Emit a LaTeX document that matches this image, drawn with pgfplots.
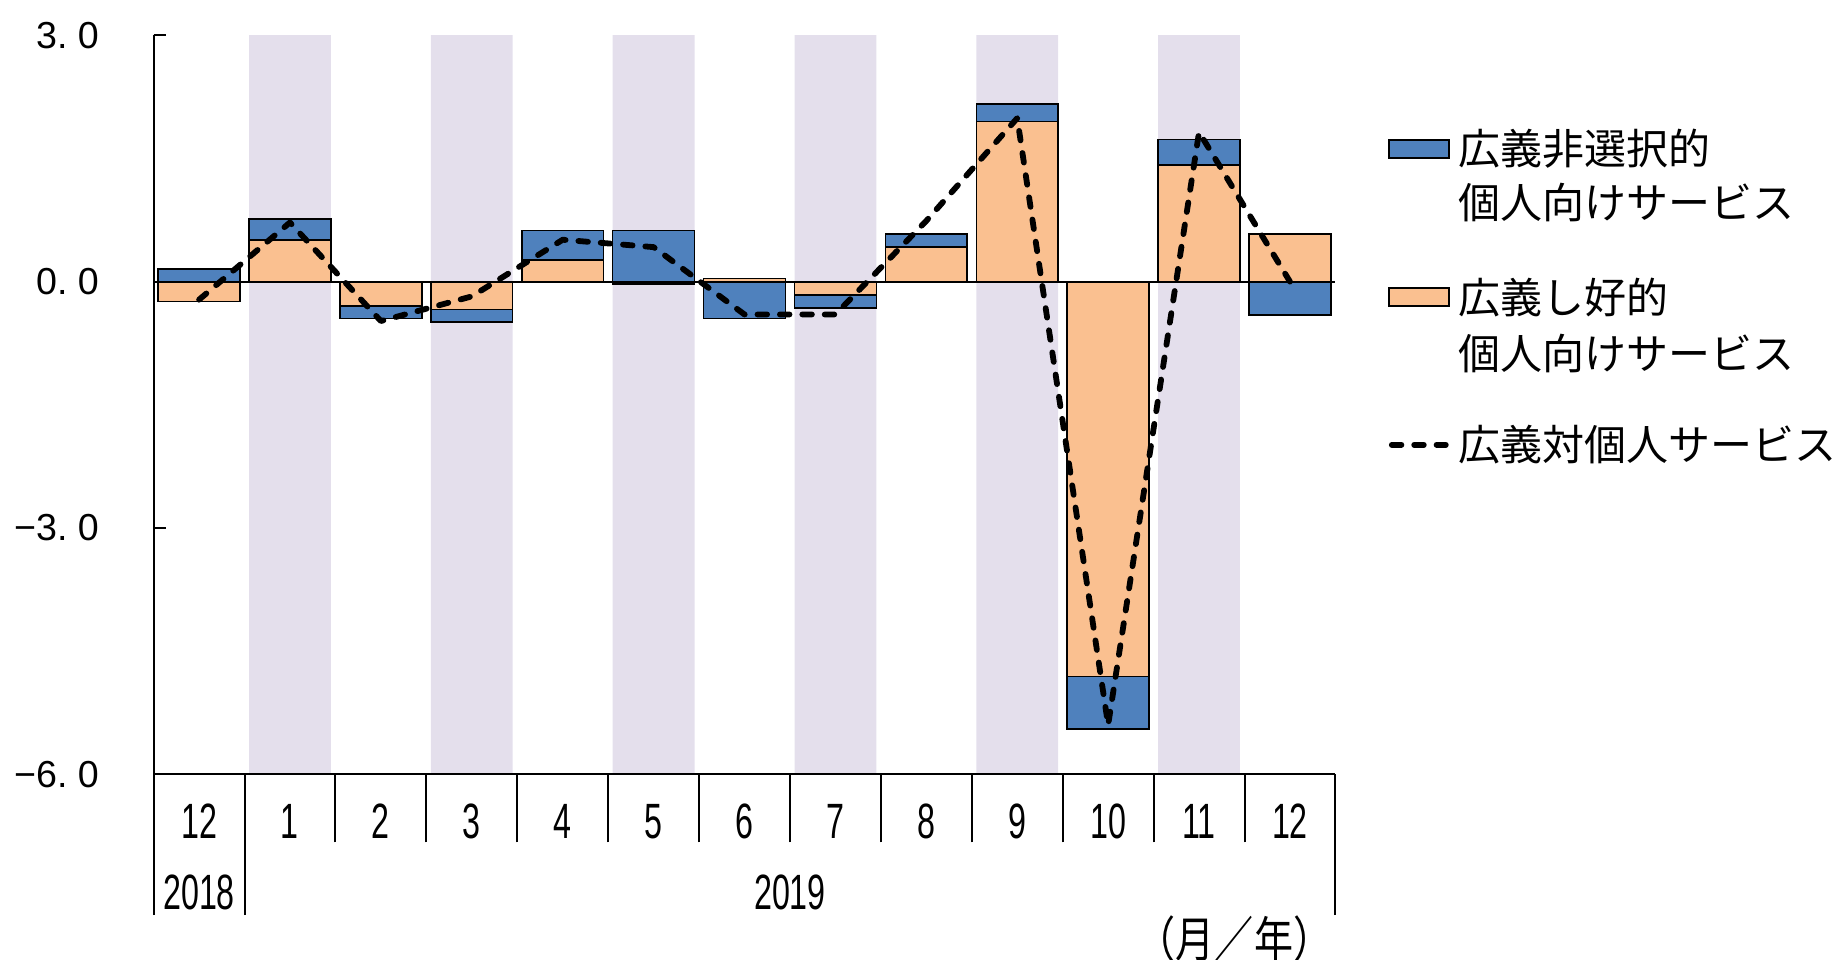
\documentclass[border=0pt]{standalone}
\usepackage{pgfplots}
\usepackage{pgfplotstable}
\pgfplotsset{compat=1.18}
\usepackage{fontspec}
\setmainfont{Noto Sans CJK JP}
\newfontfamily\lat{Liberation Sans}
\newfontfamily\cond[FakeStretch=0.65]{Liberation Sans}
\newfontfamily\condjp[FakeStretch=0.8]{Noto Sans CJK JP}
\definecolor{cblue}{HTML}{4F81BD}
\definecolor{corange}{HTML}{FAC090}
\definecolor{cband}{HTML}{E4DFEC}

% x: 0 = 2018/12, 1..12 = 2019/1..12
% o = 広義し好的 (orange), b = 広義非選択的 (blue), split into positive / negative parts
\pgfplotstableread{
x  opos  bpos  oneg   bneg
0  0     0.15  -0.24  0
1  0.51  0.25  0      0
2  0     0     -0.30  -0.15
3  0     0     -0.34  -0.15
4  0.26  0.36  0      0
5  0     0.62  -0.03  0
6  0.04  0     0      -0.45
7  0     0     -0.16  -0.16
8  0.42  0.16  0      0
9  1.95  0.21  0      0
10 0     0     -4.81  -0.64
11 1.42  0.31  0      0
12 0.58  0     0      -0.41
}\bars
\pgfplotstableread{
x  tot
0  -0.22
1  0.72
2  -0.48
3  -0.18
4  0.51
5  0.42
6  -0.40
7  -0.40
8  0.74
9  1.99
10 -5.40
11 1.82
12 0.00
}\total
\pgfplotstableread{
x  top  bot
1  3    -6
3  3    -6
5  3    -6
7  3    -6
9  3    -6
11 3    -6
}\bands

\pgfplotsset{
  base/.style={scale only axis, width=295.45pt, height=184.8pt,
    xmin=-0.5, xmax=12.5, ymin=-6, ymax=3, at={(0pt,0pt)}, anchor=south west},
  boxlegend/.style={legend image code/.code={\draw[##1] (0pt,1.75pt) rectangle (15pt,6.25pt);}},
  dashlegend/.style={legend image code/.code={\draw[##1] (0.75pt,4pt) -- (14.25pt,4pt);}},
  barstyle/.style={draw=black, line width=0.4pt},
}

\begin{document}
\begin{tikzpicture}
\path[use as bounding box] (-38.4pt,-46.4pt) rectangle (421.6pt,193.6pt);

% background bands
\begin{axis}[base, hide axis, ybar, bar width=0.9, bar shift=0pt]
\addplot[fill=cband, draw=none] table[x=x, y=top] {\bands};
\addplot[fill=cband, draw=none] table[x=x, y=bot] {\bands};
\end{axis}

% positive stack
\begin{axis}[base, hide axis, ybar stacked, bar width=0.9]
\addplot[fill=corange, barstyle] table[x=x, y=opos] {\bars};
\addplot[fill=cblue, barstyle] table[x=x, y=bpos] {\bars};
\end{axis}

% negative stack
\begin{axis}[base, hide axis, ybar stacked, bar width=0.9]
\addplot[fill=corange, barstyle] table[x=x, y=oneg] {\bars};
\addplot[fill=cblue, barstyle] table[x=x, y=bneg] {\bars};
\end{axis}

% axes, line, legend
\begin{axis}[base, clip=false,
  axis lines=left, axis line style={-, black, line width=0.5pt},
  tick align=outside,
  tick style={black, line width=0.5pt},
  major tick length=17pt,
  minor tick length=3pt,
  xtick={-0.5,0.5,...,12.5},
  x tick label as interval,
  xticklabels={12,1,2,3,4,5,6,7,8,9,10,11,12},
  xticklabel style={font=\fontsize{12.4}{13}\cond, anchor=center, yshift=5.25pt},
  extra x ticks={-0.5,0.5,12.5},
  extra x tick labels={},
  extra x tick style={major tick length=35.2pt},
  ytick={-6,-3,0,3},
  yticklabels={−6.\kern2.6pt{}0, −3.\kern2.6pt{}0, 0.\kern2.6pt{}0, 3.\kern2.6pt{}0},
  major y tick style={draw=none},
  minor ytick={-6,-3,0,3},
  minor y tick style={xshift=3pt},
  yticklabel style={font=\fontsize{9.4}{10}\lat, inner sep=0pt, anchor=east, xshift=3.5pt},
  legend style={at={(axis description cs:1.0445,0.8788)}, anchor=north west,
    draw=none, fill=none, inner sep=0pt, outer sep=0pt, row sep=0pt, column sep=2.2pt,
    font=\fontsize{10.5}{12}\selectfont, cells={anchor=base west},
    nodes={inner sep=0pt}},
]
\addplot[black, line width=0.5pt, forget plot] coordinates {(-0.5,0) (12.5,0)};

\addlegendimage{boxlegend, fill=cblue, draw=black, line width=0.4pt}
\addlegendentry{広義非選択的\rule{0pt}{10pt}}
\addlegendimage{empty legend}
\addlegendentry{個人向けサービス\rule{0pt}{12pt}}
\addlegendimage{boxlegend, fill=corange, draw=black, line width=0.4pt}
\addlegendentry{広義し好的\rule{0pt}{22.1pt}}
\addlegendimage{empty legend}
\addlegendentry{個人向けサービス\rule{0pt}{12.5pt}}

\addplot[black, line width=1.45pt, dash pattern=on 2.4pt off 3.2pt, line cap=round, line join=round, dashlegend]
  table[x=x, y=tot] {\total};
\addlegendentry{広義対個人サービス\rule{0pt}{21.4pt}}

\node[font=\fontsize{12.4}{13}\cond, yshift=-29.4pt] at (axis cs:0,-6) {2018};
\node[font=\fontsize{12.4}{13}\cond, yshift=-29.4pt] at (axis cs:6.5,-6) {2019};
\node[font=\fontsize{12.2}{13}\condjp, yshift=-41.1pt] at (axis cs:11.39,-6) {（月／年）};
\end{axis}
\end{tikzpicture}
\end{document}
